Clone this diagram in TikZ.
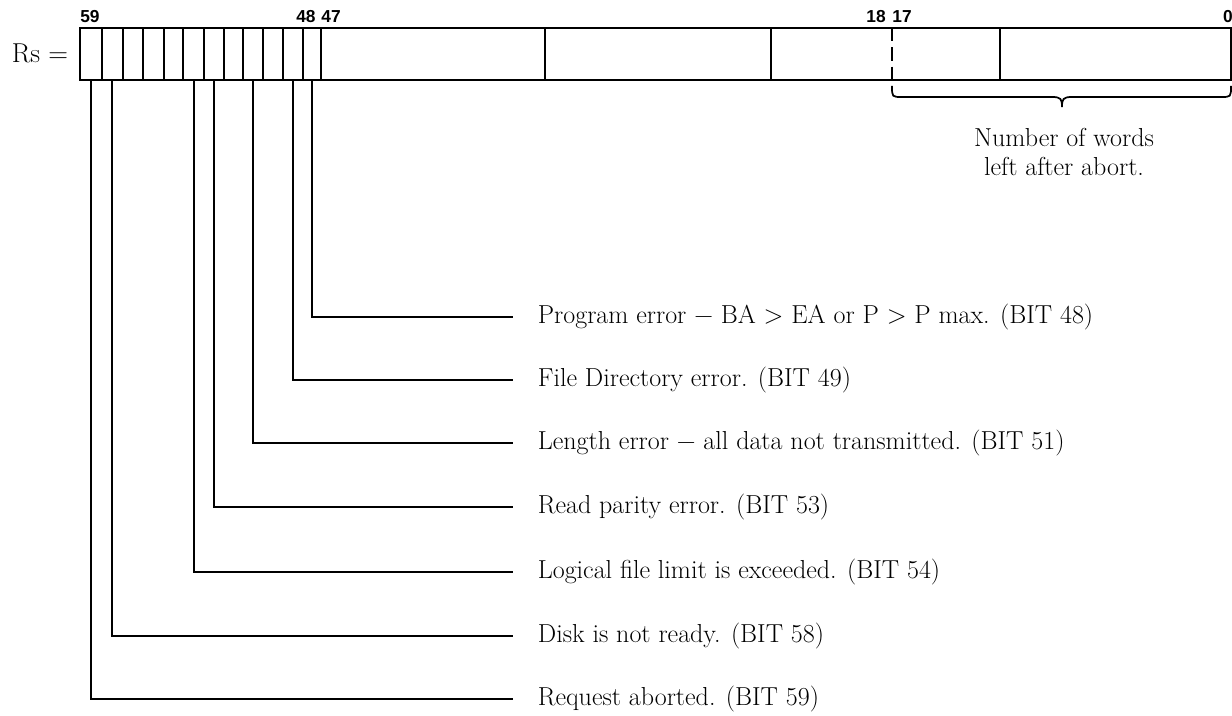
\documentclass[tikz,border=0pt]{standalone}
\usepackage{fontspec}
\newfontfamily\labfont{Liberation Sans}
\begin{document}
\begin{tikzpicture}[x=0.75pt,y=-0.75pt,line width=1.3pt,
  cell/.style={draw,rectangle,inner sep=0pt,minimum height=39pt},
  bitlab/.style={font=\labfont\bfseries\fontsize{13}{13}\selectfont,inner sep=0pt,anchor=base},
  desc/.style={font=\fontsize{19.5}{24}\selectfont,anchor=west,inner xsep=18pt,inner ysep=0pt,text height=15.6pt,text depth=5.5pt},
  note/.style={font=\fontsize{19.5}{24}\selectfont,anchor=base,inner sep=0pt},
  lead/.style={line width=1.3pt},
  dashsep/.style={dash pattern=on 10pt off 4.5pt}]
\useasboundingbox (0,0) rectangle (1232,716);

% register label
\node[font=\fontsize{20.5}{24}\selectfont,anchor=base east,inner sep=0pt] (rs) at (69,63) {Rs =};

% single-bit cells 59..48
\foreach \b/\l/\r in {59/80/101.7,58/101.7/122.7,57/122.7/143.3,56/143.3/164,55/164/183.3,54/183.3/204,53/204/224,52/224/243.3,51/243.3/263.3,50/263.3/283.3,49/283.3/303.3,48/303.3/321}{
  \pgfmathsetmacro{\w}{(\r-\l)*0.75}
  \node[cell,minimum width=\w pt] (c\b) at ({(\l+\r)/2},54) {};
}
% wider fields
\node[cell,minimum width=168pt] (f1) at (433,54) {};
\node[cell,minimum width=169.5pt] (f2) at (658,54) {};
\node[cell,minimum width=171.75pt] (f3) at (885.5,54) {};
\node[cell,minimum width=173.25pt] (f4) at (1115.5,54) {};
\draw[dashsep] (892,28) -- (892,80);

% bit numbers
\node[bitlab] (l59) at (90,23) {59};
\node[bitlab] (l48) at (306,23) {48};
\node[bitlab] (l47) at (331,23) {47};
\node[bitlab] (l18) at (876,23) {18};
\node[bitlab] (l17) at (902,23) {17};
\node[bitlab] (l0) at (1228,23) {0};

% brace
\draw (892,86) .. controls (892,97) and (892,97) .. (902,97) -- (1052,97)
  .. controls (1061,97) and (1062,99) .. (1062,107)
  .. controls (1062,99) and (1063,97) .. (1072,97) -- (1221,97)
  .. controls (1231,97) and (1231,97) .. (1231,86);
\node[note] (nw1) at (1064,147) {Number of words};
\node[note] (nw2) at (1064,176) {left after abort.};

% descriptions
\node[desc] (t48) at (513,317) {Program error − BA > EA or P > P max. (BIT 48)};
\node[desc] (t49) at (513,380) {File Directory error. (BIT 49)};
\node[desc] (t51) at (513,443) {Length error − all data not transmitted. (BIT 51)};
\node[desc] (t53) at (513,507) {Read parity error. (BIT 53)};
\node[desc] (t54) at (513,572) {Logical file limit is exceeded. (BIT 54)};
\node[desc] (t58) at (513,636) {Disk is not ready. (BIT 58)};
\node[desc] (t59) at (513,699) {Request aborted. (BIT 59)};

% leaders
\draw[lead] (c48.south) |- (t48);
\draw[lead] (c49.south) |- (t49);
\draw[lead] (c51.south) |- (t51);
\draw[lead] (c53.south) |- (t53);
\draw[lead] (c54.south) |- (t54);
\draw[lead] (c58.south) |- (t58);
\draw[lead] (c59.south) |- (t59);
\end{tikzpicture}
\end{document}
